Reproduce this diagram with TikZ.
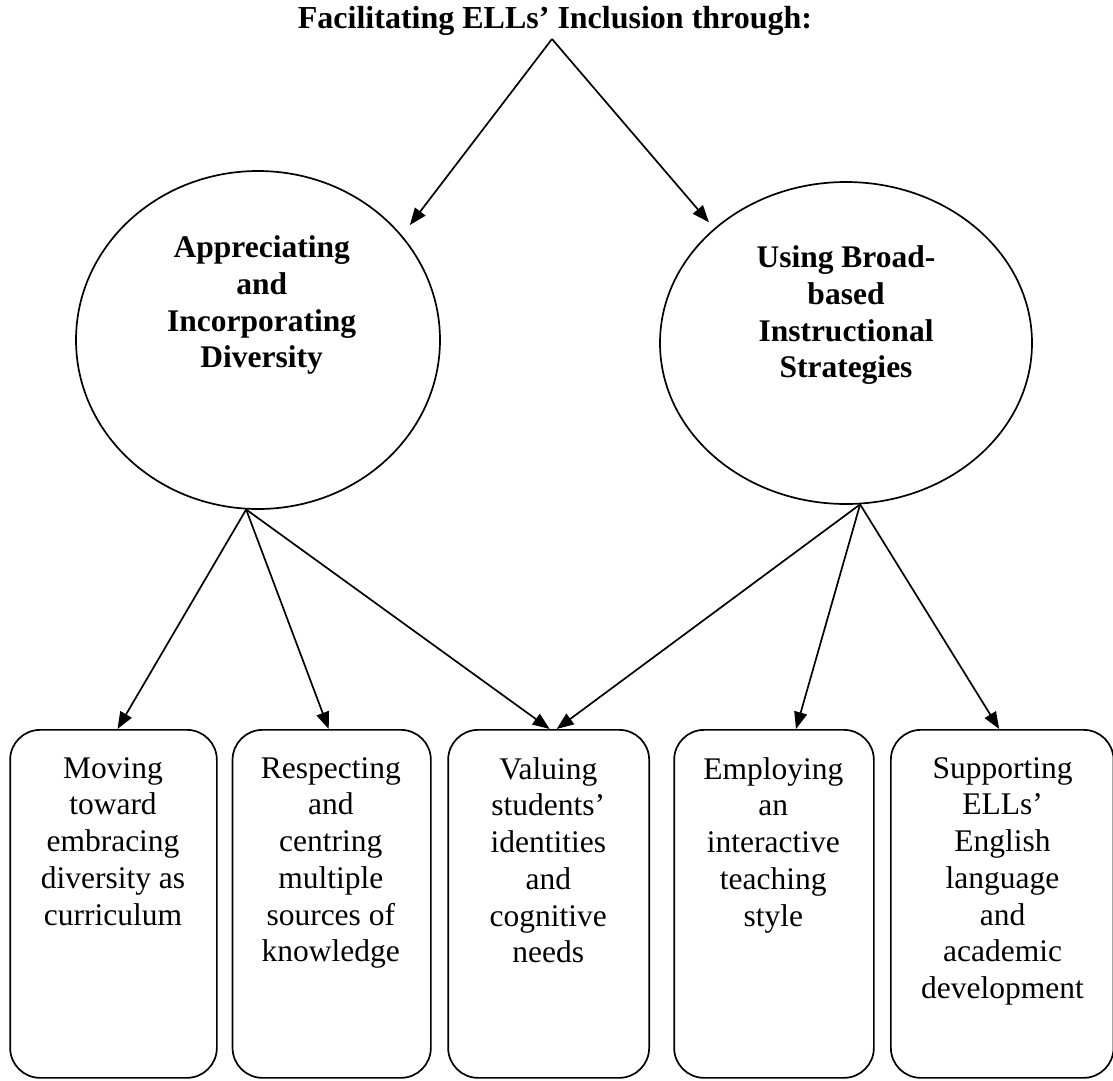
\documentclass[tikz,border=0pt]{standalone}
\usepackage{fontspec}
\setmainfont{Liberation Serif}
\usetikzlibrary{arrows.meta,shapes.geometric}
\begin{document}
\begin{tikzpicture}[x=1pt,y=-1pt,
  line width=1.7pt,
  arr/.style={-{Triangle[length=17pt,width=13pt]}},
  oval/.style={draw, ellipse, inner sep=0pt},
  card/.style={draw, rectangle, rounded corners=30pt, inner sep=0pt, anchor=north west, minimum height=348pt},
  bodytext/.style={align=center, inner sep=0pt, anchor=north, font=\fontsize{31.5}{36.7}\selectfont},
  headtext/.style={align=center, inner sep=0pt, anchor=north, font=\fontsize{31.5}{36.7}\selectfont\bfseries},
]
\useasboundingbox (0,0) rectangle (1113,1080);

% title
\node[font=\fontsize{32}{38}\selectfont\bfseries, anchor=base, inner sep=0pt] (title) at (555,28) {Facilitating ELLs’ Inclusion through:};
\coordinate (apex) at (552,39);

% ellipses
\node[oval, minimum width=364pt, minimum height=338pt] (e1) at (258,340) {};
\node[oval, minimum width=372pt, minimum height=322pt] (e2) at (846,343) {};
\node[headtext] (l1) at (261.7,235) {Appreciating\\and\\Incorporating\\Diversity};
\node[headtext] (l2) at (846,245) {Using Broad-\\based\\Instructional\\Strategies};

% boxes
\node[card, minimum width=206.7pt] (b1) at (9.3,729) {};
\node[card, minimum width=198.3pt] (b2) at (231.7,729) {};
\node[card, minimum width=201pt] (b3) at (447.3,729) {};
\node[card, minimum width=199.7pt] (b4) at (673.3,729) {};
\node[card, minimum width=222.7pt] (b5) at (890,729) {};

\node[bodytext] (t1) at (113,756.5) {Moving\\toward\\embracing\\diversity as\\curriculum};
\node[bodytext] (t2) at (330.8,756.5) {Respecting\\and\\centring\\multiple\\sources of\\knowledge};
\node[bodytext] (t3) at (548.3,756.5) {Valuing\\students’\\identities\\and\\cognitive\\needs};
\node[bodytext] (t4) at (773.3,756.5) {Employing\\an\\interactive\\teaching\\style};
\node[bodytext] (t5) at (1002.5,756.5) {Supporting\\ELLs’\\English\\language\\and\\academic\\development};

% connectors
\draw[arr, shorten >=13pt] (apex) -- (e1.36);
\draw[arr, shorten >=8pt] (apex) -- (e2.139);

\draw[arr] (e1.266) -- ([xshift=4pt]b1.north);
\draw[arr] (e1.266) -- ([xshift=-3pt]b2.north);
\draw[arr] (e1.266) -- ([xshift=1pt]b3.north);
\draw[arr] (e2.275) -- ([xshift=8pt]b3.north);
\draw[arr] (e2.275) -- ([xshift=22pt]b4.north);
\draw[arr] (e2.275) -- ([xshift=-3pt]b5.north);
\end{tikzpicture}
\end{document}
